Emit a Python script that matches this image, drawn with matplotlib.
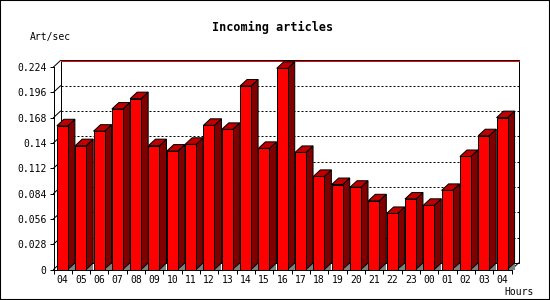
import numpy as np
import matplotlib
matplotlib.use("Agg")
import matplotlib.pyplot as plt
from matplotlib.patches import Polygon, Rectangle

hours = ["04", "05", "06", "07", "08", "09", "10", "11", "12", "13", "14", "15",
         "16", "17", "18", "19", "20", "21", "22", "23", "00", "01", "02", "03", "04"]
rate = [0.159, 0.137, 0.153, 0.1775, 0.189, 0.137, 0.131, 0.1385, 0.1595, 0.155,
        0.203, 0.134, 0.2225, 0.1295, 0.103, 0.094, 0.091, 0.076, 0.062, 0.078,
        0.071, 0.0875, 0.125, 0.148, 0.168]
ytick_vals = [0, 0.028, 0.056, 0.084, 0.112, 0.14, 0.168, 0.196, 0.224]
ytick_labels = ["0", "0.028", "0.056", "0.084", "0.112", "0.14", "0.168", "0.196", "0.224"]

FRONT = "#ff0000"
SIDE = "#800000"
TOP = "#c00000"
FLOOR = "#808080"
LW = 0.72  # 1 px

plt.rcParams['font.family'] = ['DejaVu Sans Mono']

fig = plt.figure(figsize=(5.5, 3), dpi=100)
ax = fig.add_axes([53.5 / 550, 30.5 / 300, 458 / 550, 202.5 / 300])
ax.set_xlim(-0.5, len(hours) - 0.5)
ax.set_ylim(0, 0.224)
ax.set_facecolor("none")

# depth of the 3d effect, 7 px right and 6.5 px up, in data units
inv = ax.transData.inverted()
p0 = inv.transform((0, 0))
p1 = inv.transform((7, 6.5))
ddx, ddy = p1 - p0
px_y = inv.transform((0, 1))[1] - p0[1]

x0, x1 = -0.5, len(hours) - 0.5

# back wall
ax.add_patch(Rectangle((x0 + ddx, ddy), x1 - x0, 0.224, facecolor="white",
                       edgecolor="black", lw=LW, zorder=0, clip_on=False))
for t in ytick_vals[1:-1]:
    ax.plot([x0 + ddx, x1 + ddx], [t + ddy, t + ddy], color="black", lw=LW,
            ls=(0, (2, 2)), zorder=1, clip_on=False)
ax.plot([x0 + ddx, x1 + ddx], [0.224 + ddy - px_y] * 2, color="red", lw=LW,
        zorder=1, clip_on=False)

# left wall slants and right floor edge
for t in ytick_vals:
    ax.plot([x0, x0 + ddx], [t, t + ddy], color="black", lw=LW, zorder=1, clip_on=False)
ax.plot([x1, x1 + ddx], [0, ddy], color="black", lw=LW, zorder=1, clip_on=False)

# bars
xs = np.arange(len(hours))
bars = ax.bar(xs - 0.315, rate, width=0.6, align="edge", color=FRONT,
              edgecolor="black", lw=LW, zorder=4)
for b, v in zip(bars, rate):
    l = b.get_x()
    r = l + b.get_width()
    ax.add_patch(Polygon([(r, 0), (r + ddx, 0), (r + ddx, ddy)], closed=True,
                         facecolor=FLOOR, edgecolor="none", zorder=3, clip_on=False))
    ax.add_patch(Polygon([(r, 0), (r + ddx, ddy), (r + ddx, v + ddy), (r, v)], closed=True,
                         facecolor=SIDE, edgecolor="black", lw=LW, zorder=3, clip_on=False))
    ax.add_patch(Polygon([(l, v), (r, v), (r + ddx, v + ddy), (l + ddx, v + ddy)], closed=True,
                         facecolor=TOP, edgecolor="black", lw=LW, zorder=3, clip_on=False))

for s in ["top", "right"]:
    ax.spines[s].set_visible(False)
for s in ["left", "bottom"]:
    ax.spines[s].set_linewidth(LW)

ax.set_yticks(ytick_vals, ytick_labels)
ax.set_xticks(xs, hours)
ax.set_xticks(np.arange(-0.5, len(hours), 1), minor=True)
ax.tick_params(axis="y", length=3, width=LW, pad=2, labelsize=7)
ax.tick_params(axis="x", which="major", length=0, pad=4, labelsize=7)
ax.tick_params(axis="x", which="minor", length=3, width=LW)

fig.text(273 / 550, 1 - 27 / 300, "Incoming articles", ha="center", va="center",
         fontsize=8.5, fontweight="bold")
fig.text(30 / 550, 1 - 37 / 300, "Art/sec", ha="left", va="center", fontsize=7)
fig.text(534 / 550, 1 - 292 / 300, "Hours", ha="right", va="center", fontsize=7)

fig.patches.append(Rectangle((0, 0), 1, 1, transform=fig.transFigure, fill=False,
                             edgecolor="black", lw=1.5))

fig.savefig("out.png", dpi=100)
